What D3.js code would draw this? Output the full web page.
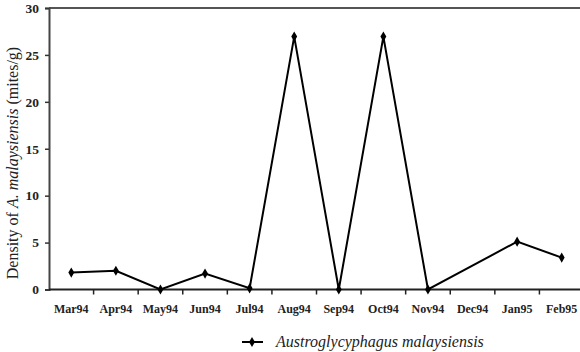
<!DOCTYPE html>
<html><head><meta charset="utf-8">
<script src="https://cdn.jsdelivr.net/npm/d3@7"></script>
<style>body{margin:0;background:#fff}svg{display:block}svg text{font-family:"Liberation Serif","Times New Roman",Times,serif !important}</style>
</head><body>
<svg id="c" width="580" height="352"></svg>
<script>
const months = ["Mar94","Apr94","May94","Jun94","Jul94","Aug94","Sep94","Oct94","Nov94","Dec94","Jan95","Feb95"];
const density = [1.8, 2.0, 0, 1.7, 0.13, 26.95, 0, 26.95, 0, null, 5.1, 3.4];
const yTicks = [0,5,10,15,20,25,30];
const seriesName = "Austroglycyphagus malaysiensis";
const FF = "Liberation Serif, Times New Roman, serif";

const svg = d3.select("#c");
const x = d3.scaleBand().domain(months).range([49, 584]);
const y = d3.scaleLinear().domain([0,30]).range([289.5, 8]);

// top border
svg.append("line").attr("x1",49).attr("x2",580).attr("y1",y(30)).attr("y2",y(30))
  .attr("stroke","#555").attr("stroke-width",2);

// y axis
const ya = svg.append("g").attr("transform","translate(49,0)")
  .call(d3.axisLeft(y).tickValues(yTicks).tickSize(4).tickPadding(6));
ya.attr("font-family",FF);
ya.select(".domain").attr("stroke","#444").attr("stroke-width",2);
ya.selectAll(".tick line").attr("stroke","#333").attr("stroke-width",1.5);
ya.selectAll(".tick text").attr("font-size",13.5).attr("font-weight","bold").attr("fill","#222");

// x axis
const xa = svg.append("g").attr("transform",`translate(0,${y(0)})`).attr("font-family",FF);
xa.append("line").attr("x1",49).attr("x2",580).attr("stroke","#222").attr("stroke-width",2);
xa.selectAll("line.t").data(months.slice(1)).join("line").attr("class","t")
  .attr("x1",d=>x(d)).attr("x2",d=>x(d)).attr("y1",0).attr("y2",5)
  .attr("stroke","#222").attr("stroke-width",1.5);
xa.selectAll("text").data(months).join("text")
  .attr("x",d=>x(d)+x.bandwidth()/2).attr("y",23.5)
  .attr("text-anchor","middle").attr("font-size",12).attr("font-weight","bold").attr("fill","#222")
  .text(d=>d);

// y title
const yt = svg.append("text").attr("transform","translate(18,163) rotate(-90)")
  .attr("font-family",FF).attr("text-anchor","middle").attr("font-size",16).attr("fill","#222");
yt.append("tspan").text("Density of ");
yt.append("tspan").attr("font-style","italic").text("A. malaysiensis");
yt.append("tspan").text(" (mites/g)");

// line
const pts = months.map((m,i)=>({m, v:density[i]})).filter(d=>d.v!==null);
svg.append("path").datum(pts)
  .attr("d", d3.line().x(d=>x(d.m)+x.bandwidth()/2).y(d=>y(d.v)))
  .attr("fill","none").attr("stroke","#000").attr("stroke-width",2);
const diamond = d3.symbol().type(d3.symbolDiamond).size(30);
svg.selectAll("path.pt").data(pts).join("path").attr("class","pt")
  .attr("transform",d=>`translate(${x(d.m)+x.bandwidth()/2},${y(d.v)})`)
  .attr("d",diamond).attr("fill","#000");

// legend
svg.append("line").attr("x1",242).attr("x2",263).attr("y1",342).attr("y2",342)
  .attr("stroke","#000").attr("stroke-width",2);
svg.append("path").attr("transform","translate(252,342)").attr("d",diamond).attr("fill","#000");
svg.append("text").attr("x",276).attr("y",347).attr("font-family",FF).attr("font-size",16).attr("font-style","italic")
  .attr("fill","#222").text(seriesName);
</script>
</body></html>
